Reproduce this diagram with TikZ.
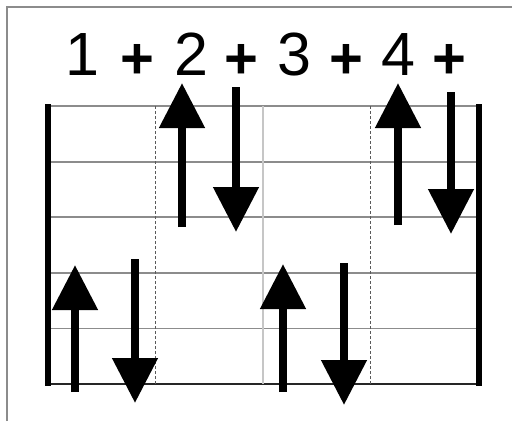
\documentclass[tikz,border=0pt]{standalone}
\usepackage{fontspec}
\setmainfont{Liberation Sans}
\usetikzlibrary{arrows.meta}

\begin{document}
\begin{tikzpicture}[
  x=1pt, y=-1pt,
  frame/.style={draw=gray!90, line width=1.5pt},
  string/.style={draw=gray!90, line width=1.8pt},
  barline/.style={draw=black, line width=5.5pt},
  beat/.style={draw=gray!45, line width=2pt},
  offbeat/.style={draw=black!65, line width=0.6pt, dash pattern=on 3pt off 2pt},
  strum/.style={-{Triangle[width=44pt, length=45pt]}, line width=8pt},
  count/.style={font=\fontsize{61}{61}\selectfont, inner sep=0pt, anchor=base},
  plus/.style={font=\fontsize{58}{58}\selectfont\bfseries, inner sep=0pt, anchor=base}
]
  \useasboundingbox (0,0) rectangle (512,421);
  \draw[frame] (7,421) -- (7,7) -- (512,7);

  % count
  \node[count] (one)   at (82,75)  {1};
  \node[plus]  (and1)  at (137,78) {+};
  \node[count] (two)   at (191,75) {2};
  \node[plus]  (and2)  at (241,78) {+};
  \node[count] (three) at (294,75) {3};
  \node[plus]  (and3)  at (346,78) {+};
  \node[count] (four)  at (398,75) {4};
  \node[plus]  (and4)  at (449,78) {+};

  % grid
  \foreach \y in {0,...,4}
    \draw[string] (48,106+55.6*\y) -- (479,106+55.6*\y);
  \draw[string, draw=black!85] (48,384) -- (479,384);
  \draw[offbeat] (155.7,106) -- (155.7,384);
  \draw[beat] (263.3,106) -- (263.3,384);
  \draw[offbeat] (370.7,106) -- (370.7,384);
  \draw[barline] (48,104) -- (48,386);
  \draw[barline] (479,104) -- (479,386);

  % strums
  \foreach \x/\a/\b [count=\i] in {75/392/265, 135/259/403, 182/227/83, 236/87/232,
                                   283/392/264, 344/263/405, 398/225/83, 451/92/234} {
    \coordinate (s\i) at (\x,\a);
    \coordinate (t\i) at (\x,\b);
    \draw[strum] (s\i) -- (t\i);
  }
\end{tikzpicture}
\end{document}
